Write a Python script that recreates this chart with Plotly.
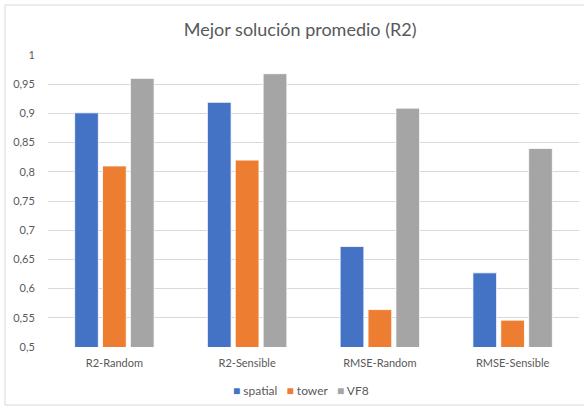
import plotly.graph_objects as go

categories = ["R2-Random", "R2-Sensible", "RMSE-Random", "RMSE-Sensible"]
spatial = [0.901, 0.919, 0.672, 0.627]
tower = [0.810, 0.820, 0.564, 0.546]
vf8 = [0.960, 0.968, 0.909, 0.840]
y_ticks = [0.5, 0.55, 0.6, 0.65, 0.7, 0.75, 0.8, 0.85, 0.9, 0.95, 1.0]

series = [
    ("spatial", spatial, "#4472C4"),
    ("tower", tower, "#ED7D31"),
    ("VF8", vf8, "#A5A5A5"),
]

fig = go.Figure()
for name, vals, color in series:
    fig.add_trace(go.Bar(
        x=categories, y=vals, name=name,
        marker=dict(color=color, line=dict(color="white", width=0.8)),
        showlegend=False,
    ))

font_family = "Lato, Open Sans, sans-serif"

# compact legend: coloured squares followed by the series names
legend_text = "&nbsp;&nbsp;&nbsp;".join(
    f"<span style='color:{c}'>■</span>&nbsp;{n}" for n, _, c in series
)

fig.update_layout(
    width=584, height=410,
    margin=dict(l=48, r=5, t=55, b=63, autoexpand=False),
    paper_bgcolor="white", plot_bgcolor="white",
    separators=",.",
    barmode="group", bargap=0.37, bargroupgap=0.15,
    font=dict(family=font_family, color="#595959", size=11),
    title=dict(
        text="Mejor solución promedio (R2)",
        x=0.514, xanchor="center", xref="container",
        y=0.927, yanchor="middle",
        font=dict(size=18, color="#595959", family=font_family),
    ),
    xaxis=dict(
        showgrid=False, showline=False, zeroline=False,
        ticks="outside", ticklen=6, tickcolor="rgba(0,0,0,0)",
        tickfont=dict(size=11, color="#595959"), tickangle=0,
    ),
    yaxis=dict(
        range=[0.5, 1.0], tickvals=y_ticks,
        showgrid=True, gridcolor="#D9D9D9", gridwidth=1,
        zeroline=False, showline=False,
        ticks="outside", ticklen=10, tickcolor="rgba(0,0,0,0)",
        tickfont=dict(size=11, color="#595959"),
    ),
    annotations=[dict(
        text=legend_text, xref="paper", yref="paper",
        x=(301 - 48) / 531, y=-43 / 292, xanchor="center", yanchor="middle",
        showarrow=False, font=dict(size=12, color="#595959"),
    )],
    shapes=[dict(
        type="rect", xref="paper", yref="paper",
        x0=-43 / 531, x1=1.02, y0=-58 / 292, y1=1 + 50 / 292,
        line=dict(color="#D9D9D9", width=1), fillcolor="rgba(0,0,0,0)",
        layer="below",
    )],
)

fig.write_html("out.html")
